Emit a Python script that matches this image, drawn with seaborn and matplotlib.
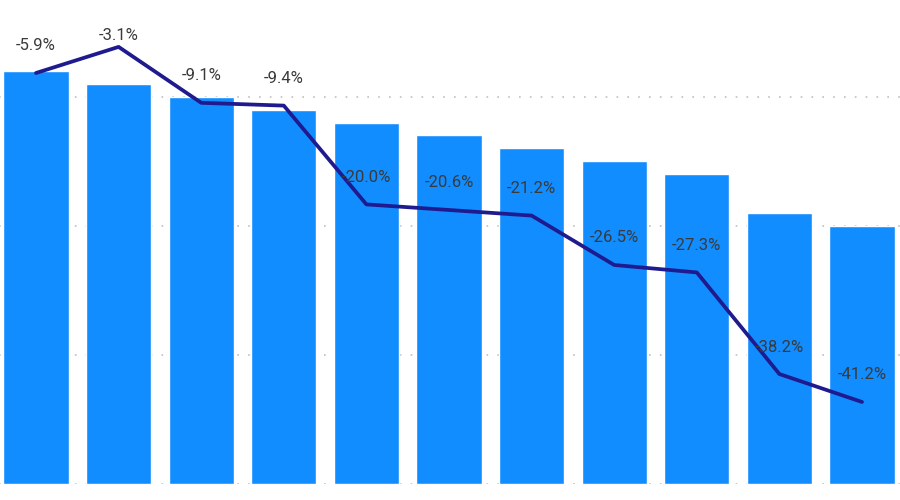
import matplotlib
matplotlib.use("Agg")
import matplotlib.pyplot as plt
import seaborn as sns
import pandas as pd

# Data
categories = ["C1", "C2", "C3", "C4", "C5", "C6", "C7", "C8", "C9", "C10", "C11"]
bar_values = [3.2, 3.1, 3.0, 2.9, 2.8, 2.7, 2.6, 2.5, 2.4, 2.1, 2.0]
pct_change = [-5.9, -3.1, -9.1, -9.4, -20.0, -20.6, -21.2, -26.5, -27.3, -38.2, -41.2]

df = pd.DataFrame({"cat": categories, "value": bar_values, "pct": pct_change})

sns.set_theme(style="white")
plt.rcParams["font.family"] = ["Roboto", "DejaVu Sans"]

fig = plt.figure(figsize=(9, 5), dpi=100)
ax = fig.add_axes([-5.3 / 900, 16 / 500, 908.6 / 900, 466 / 500])

sns.barplot(data=df, x="cat", y="value", color="#118DFF", saturation=1,
            width=0.79, ax=ax)
ax.set_ylim(0, 3.61)
ax.set_yticks([0, 1, 2, 3])
ax.yaxis.grid(True, linestyle=(0, (1, 5.5)), color="#c0c0c0", linewidth=1.2)
ax.set_axisbelow(True)
ax.set_xlabel("")
ax.set_ylabel("")
ax.set_yticklabels([])
ax.set_xticklabels([])
ax.tick_params(left=False, bottom=False, labelleft=False, labelbottom=False)
for s in ax.spines.values():
    s.set_visible(False)

ax2 = ax.twinx()
sns.lineplot(x=list(range(len(categories))), y=pct_change, ax=ax2,
             color="#1F1B8F", linewidth=2.7, solid_joinstyle="round")
ax2.set_ylim(-50, 0)
ax2.set_xlim(-0.5, len(categories) - 0.5)
ax.set_xlim(-0.5, len(categories) - 0.5)
ax2.axis("off")

fig.canvas.draw()
H = fig.bbox.height
for i, v in enumerate(pct_change):
    px, py = ax2.transData.transform((i, v))
    ly = min(py + 27, H - 36)
    fig.text(px / fig.bbox.width, ly / H, f"{v:.1f}%", ha="center", va="center",
             fontsize=12, color="#3a3a3a")

fig.savefig("out.png", dpi=100)
